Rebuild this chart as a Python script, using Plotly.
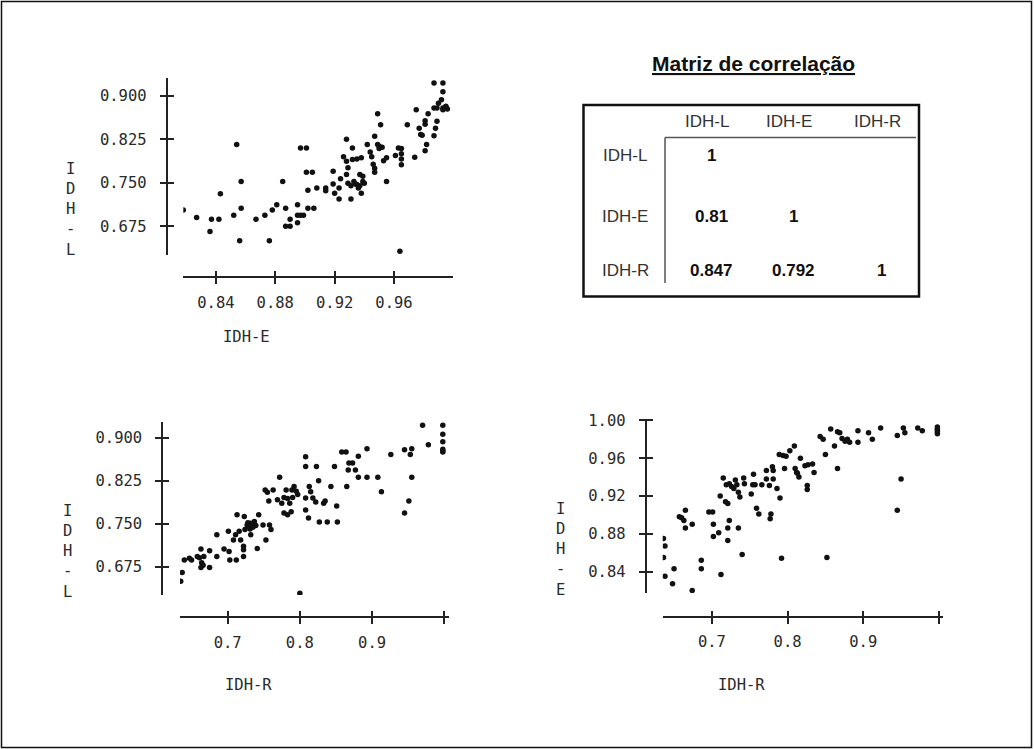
import plotly.graph_objects as go

# ---------------- data ----------------
# Plot 1: IDH-E (x) vs IDH-L (y)
idh_e_p1 = [0.818,0.827,0.836,0.837,0.842,0.843,0.852,0.854,0.856,0.857,
            0.857,0.867,0.873,0.876,0.878,0.881,0.885,0.887,0.887,0.890,
            0.890,0.895,0.895,0.895,0.897,0.899,0.897,0.901,0.901,0.905,
            0.902,0.908,0.902,0.906,0.914,0.914,0.919,0.919,0.920,0.923,
            0.923,0.924,0.928,0.926,0.928,0.929,0.928,0.929,0.931,0.931,
            0.932,0.932,0.935,0.938,0.933,0.935,0.937,0.939,0.936,0.938,
            0.939,0.942,0.944,0.945,0.946,0.947,0.947,0.947,0.949,0.951,
            0.949,0.950,0.952,0.950,0.955,0.953,0.955,0.961,0.963,0.965,
            0.965,0.965,0.965,0.964,0.969,0.974,0.975,0.977,0.978,0.979,
            0.981,0.981,0.983,0.982,0.981,0.987,0.988,0.989,0.987,0.987,
            0.993,0.993,0.992,0.990,0.989,0.993,0.995,0.996,0.993,0.995,
            0.934,0.937,0.940]
idh_l_p1 = [0.703,0.690,0.666,0.687,0.687,0.731,0.694,0.816,0.650,0.752,
            0.706,0.687,0.694,0.650,0.703,0.712,0.752,0.706,0.675,0.675,
            0.687,0.712,0.694,0.681,0.694,0.694,0.810,0.810,0.768,0.768,
            0.737,0.741,0.706,0.706,0.741,0.736,0.770,0.748,0.732,0.741,
            0.722,0.757,0.825,0.795,0.787,0.776,0.764,0.749,0.745,0.722,
            0.810,0.790,0.791,0.793,0.752,0.747,0.764,0.761,0.741,0.732,
            0.752,0.816,0.803,0.795,0.782,0.775,0.768,0.830,0.869,0.850,
            0.816,0.813,0.811,0.809,0.752,0.788,0.793,0.797,0.810,0.809,
            0.800,0.791,0.781,0.632,0.850,0.794,0.876,0.844,0.833,0.832,
            0.857,0.851,0.869,0.816,0.805,0.831,0.844,0.856,0.879,0.922,
            0.922,0.907,0.893,0.887,0.879,0.879,0.882,0.877,0.876,0.880,
            0.748,0.745,0.749]

# Plot 2: IDH-R (x) vs IDH-L (y)
idh_r_p2 = [0.635,0.637,0.640,0.647,0.650,0.658,0.661,0.663,0.664,0.663,
            0.667,0.666,0.675,0.675,0.685,0.685,0.695,0.701,0.702,0.703,
            0.708,0.712,0.711,0.713,0.716,0.718,0.722,0.722,0.722,0.723,
            0.724,0.727,0.730,0.732,0.734,0.737,0.739,0.732,0.741,0.743,
            0.749,0.753,0.758,0.760,0.752,0.755,0.757,0.763,0.769,0.772,
            0.775,0.778,0.781,0.783,0.778,0.783,0.788,0.786,0.789,0.790,
            0.792,0.795,0.797,0.800,0.808,0.808,0.808,0.812,0.813,0.808,
            0.815,0.818,0.822,0.823,0.826,0.827,0.833,0.835,0.838,0.843,
            0.848,0.851,0.852,0.858,0.864,0.865,0.868,0.873,0.867,0.877,
            0.881,0.881,0.893,0.893,0.908,0.913,0.926,0.945,0.945,0.951,
            0.953,0.955,0.955,0.970,0.978,0.998,0.998,0.998,0.998,0.998,
            0.998,0.728,0.735,0.731]
idh_l_p2 = [0.650,0.665,0.687,0.690,0.687,0.693,0.691,0.706,0.682,0.674,
            0.693,0.678,0.703,0.674,0.731,0.693,0.706,0.737,0.702,0.687,
            0.722,0.687,0.731,0.766,0.737,0.722,0.711,0.705,0.693,0.763,
            0.740,0.748,0.745,0.751,0.748,0.754,0.747,0.731,0.707,0.766,
            0.748,0.722,0.748,0.740,0.809,0.805,0.790,0.809,0.792,0.831,
            0.786,0.796,0.809,0.794,0.769,0.766,0.771,0.786,0.809,0.796,
            0.815,0.807,0.801,0.629,0.867,0.850,0.795,0.760,0.815,0.774,
            0.806,0.795,0.788,0.850,0.825,0.753,0.786,0.790,0.753,0.815,
            0.850,0.781,0.753,0.875,0.875,0.815,0.856,0.856,0.844,0.844,
            0.868,0.831,0.881,0.831,0.831,0.806,0.871,0.879,0.769,0.790,
            0.871,0.881,0.831,0.922,0.888,0.922,0.906,0.893,0.880,0.877,
            0.875,0.752,0.744,0.741]

# Plot 3: IDH-R (x) vs IDH-E (y)
idh_r_p3 = [0.636,0.638,0.636,0.638,0.648,0.650,0.657,0.660,0.663,0.665,
            0.674,0.665,0.674,0.686,0.686,0.696,0.701,0.702,0.702,0.709,
            0.712,0.711,0.715,0.718,0.721,0.721,0.723,0.721,0.719,0.723,
            0.726,0.729,0.731,0.733,0.735,0.737,0.740,0.735,0.742,0.743,
            0.752,0.755,0.754,0.757,0.759,0.762,0.766,0.772,0.772,0.776,
            0.778,0.777,0.780,0.781,0.781,0.786,0.790,0.792,0.789,0.794,
            0.798,0.796,0.803,0.809,0.810,0.812,0.817,0.813,0.815,0.823,
            0.827,0.833,0.835,0.826,0.826,0.843,0.847,0.850,0.852,0.857,
            0.862,0.866,0.866,0.869,0.872,0.876,0.879,0.882,0.893,0.893,
            0.907,0.912,0.923,0.945,0.950,0.945,0.953,0.955,0.972,0.978,
            0.998,0.998,0.998,0.998,0.998]
idh_e_p3 = [0.875,0.867,0.855,0.835,0.827,0.843,0.898,0.897,0.894,0.905,
            0.890,0.886,0.820,0.852,0.843,0.903,0.903,0.890,0.877,0.881,
            0.837,0.920,0.939,0.914,0.912,0.886,0.894,0.873,0.932,0.933,
            0.930,0.928,0.937,0.932,0.924,0.919,0.858,0.886,0.939,0.933,
            0.922,0.943,0.932,0.932,0.907,0.901,0.932,0.947,0.938,0.931,
            0.901,0.896,0.951,0.947,0.938,0.928,0.918,0.854,0.964,0.963,
            0.962,0.949,0.968,0.973,0.949,0.945,0.960,0.944,0.940,0.952,
            0.953,0.954,0.945,0.931,0.927,0.983,0.980,0.964,0.855,0.991,
            0.973,0.949,0.988,0.987,0.981,0.978,0.980,0.977,0.989,0.977,
            0.987,0.980,0.992,0.984,0.938,0.905,0.992,0.987,0.992,0.989,
            0.993,0.990,0.988,0.986,0.991]

# Tick values / labels
ticks_l = [0.675, 0.750, 0.825, 0.900]
ticks_l_text = ["0.675", "0.750", "0.825", "0.900"]
ticks_e_p1 = [0.84, 0.88, 0.92, 0.96]
ticks_e_p1_text = ["0.84", "0.88", "0.92", "0.96"]
ticks_r = [0.7, 0.8, 0.9, 1.0]
ticks_r_text = ["0.7", "0.8", "0.9", ""]
ticks_e_p3 = [0.84, 0.88, 0.92, 0.96, 1.00]
ticks_e_p3_text = ["0.84", "0.88", "0.92", "0.96", "1.00"]

# Correlation table
var_names = ["IDH-L", "IDH-E", "IDH-R"]
corr_rows = [["1", "", ""],
             ["0.81", "1", ""],
             ["0.847", "0.792", "1"]]

# ---------------- layout helpers ----------------
W, H = 1034, 749
def fx(px):
    return px / W
def fy(py):
    return 1 - py / H

AX = "#222222"
TICKFONT = dict(family="DejaVu Sans Mono", size=15.5, color="#2a2a2a")
MONO = dict(family="DejaVu Sans Mono", size=15.5, color="#2a2a2a")
SANS = "Liberation Sans"

fig = go.Figure()
mk = dict(size=5.5, color="#111111", symbol="circle")
fig.add_trace(go.Scatter(x=idh_e_p1, y=idh_l_p1, mode="markers", marker=mk,
                         xaxis="x", yaxis="y", showlegend=False, hoverinfo="x+y"))
fig.add_trace(go.Scatter(x=idh_r_p2, y=idh_l_p2, mode="markers", marker=mk,
                         xaxis="x2", yaxis="y2", showlegend=False, hoverinfo="x+y"))
fig.add_trace(go.Scatter(x=idh_r_p3, y=idh_e_p3, mode="markers", marker=mk,
                         xaxis="x3", yaxis="y3", showlegend=False, hoverinfo="x+y"))
# empty traces on the overlay axes (inner half of the crossing ticks)
for i in (4, 5, 6):
    fig.add_trace(go.Scatter(x=[], y=[], mode="markers", xaxis=f"x{i}", yaxis=f"y{i}",
                             showlegend=False, hoverinfo="skip"))

def main_axis(domain, rng, pos, tv, tt, standoff):
    return dict(domain=domain, range=rng, anchor="free", position=pos,
                showline=True, linecolor=AX, linewidth=2,
                ticks="outside", ticklen=6, tickwidth=2, tickcolor=AX,
                tickvals=tv, ticktext=tt, tickfont=TICKFONT,
                ticklabelstandoff=standoff, automargin=False,
                showgrid=False, zeroline=False)

def over_axis(base, rng, pos, tv):
    return dict(overlaying=base, range=rng, anchor="free", position=pos,
                showline=False, ticks="inside", ticklen=6, tickwidth=2, tickcolor=AX,
                tickvals=tv, showticklabels=False, showgrid=False, zeroline=False,
                automargin=False)

# subplot geometry (pixels)
p1 = dict(xd=[fx(183.3), fx(453.3)], xr=[0.818, 1.0], xpos=fy(277.3),
          yd=[fy(255), fy(78)], yr=[0.6255, 0.9305], ypos=fx(166.7))
p2 = dict(xd=[fx(180), fx(449.3)], xr=[0.634, 1.007], xpos=fy(617.3),
          yd=[fy(595), fy(421.7)], yr=[0.626, 0.928], ypos=fx(162.3))
p3 = dict(xd=[fx(662.7), fx(942.7)], xr=[0.635, 1.005], xpos=fy(616.7),
          yd=[fy(593.3), fy(419.3)], yr=[0.817, 1.0012], ypos=fx(645.7))

fig.update_layout(
    template="none",
    xaxis=main_axis(p1["xd"], p1["xr"], p1["xpos"], ticks_e_p1, ticks_e_p1_text, 5),
    yaxis=main_axis(p1["yd"], p1["yr"], p1["ypos"], ticks_l, ticks_l_text, 10),
    xaxis2=main_axis(p2["xd"], p2["xr"], p2["xpos"], ticks_r, ticks_r_text, 5),
    yaxis2=main_axis(p2["yd"], p2["yr"], p2["ypos"], ticks_l, ticks_l_text, 10),
    xaxis3=main_axis(p3["xd"], p3["xr"], p3["xpos"], ticks_r, ticks_r_text, 5),
    yaxis3=main_axis(p3["yd"], p3["yr"], p3["ypos"], ticks_e_p3, ticks_e_p3_text, 10),
    xaxis4=over_axis("x", p1["xr"], p1["xpos"], ticks_e_p1),
    yaxis4=over_axis("y", p1["yr"], p1["ypos"], ticks_l),
    xaxis5=over_axis("x2", p2["xr"], p2["xpos"], ticks_r),
    yaxis5=over_axis("y2", p2["yr"], p2["ypos"], ticks_l),
    xaxis6=over_axis("x3", p3["xr"], p3["xpos"], ticks_r),
    yaxis6=over_axis("y3", p3["yr"], p3["ypos"], ticks_e_p3),
)

annotations = []
def ann(text, px, py, font, xanchor="center", yanchor="middle"):
    annotations.append(dict(text=text, x=fx(px), y=fy(py), xref="paper", yref="paper",
                            showarrow=False, font=font, xanchor=xanchor, yanchor=yanchor))

# axis titles
ann("I<br>D<br>H<br>-<br>L", 70.5, 209, MONO)
ann("I<br>D<br>H<br>-<br>L", 67, 551, MONO)
ann("I<br>D<br>H<br>-<br>E", 560, 549.5, MONO)
ann("IDH-E", 246, 337, MONO)
ann("IDH-R", 248, 685, MONO)
ann("IDH-R", 741, 685, MONO)

# correlation matrix
ann("<b><u>Matriz de correlação</u></b>", 753, 63, dict(family=SANS, size=21, color="#111"))
col_x = [707, 789, 877]
row_y = [155, 216, 270]
hdr_font = dict(family=SANS, size=17, color="#333")
val_font = dict(family=SANS, size=17, color="#111")
for j, name in enumerate(var_names):
    ann(name, col_x[j], 122, hdr_font)
    ann(name, 625, row_y[j], hdr_font)
for i, row in enumerate(corr_rows):
    for j, v in enumerate(row):
        if v:
            ann(f"<b>{v}</b>", col_x[j] + 4, row_y[i], val_font)

shapes = [
    dict(type="rect", xref="paper", yref="paper", x0=fx(583.5), x1=fx(919), y0=fy(296.5), y1=fy(105),
         line=dict(color="#111", width=2.5)),
    dict(type="line", xref="paper", yref="paper", x0=fx(665), x1=fx(916), y0=fy(137.5), y1=fy(137.5),
         line=dict(color="#555", width=1.5)),
    dict(type="line", xref="paper", yref="paper", x0=fx(665), x1=fx(665), y0=fy(137.5), y1=fy(283),
         line=dict(color="#555", width=1.5)),
    # outer frame
    dict(type="rect", xref="paper", yref="paper", x0=fx(1.5), x1=fx(1031.5), y0=fy(747.5), y1=fy(1.5),
         line=dict(color="#111", width=1.5)),
]

fig.update_layout(
    width=W, height=H,
    margin=dict(l=0, r=0, t=0, b=0, pad=0, autoexpand=False),
    paper_bgcolor="white", plot_bgcolor="white",
    annotations=annotations, shapes=shapes,
    showlegend=False,
)

fig.write_html("out.html")
